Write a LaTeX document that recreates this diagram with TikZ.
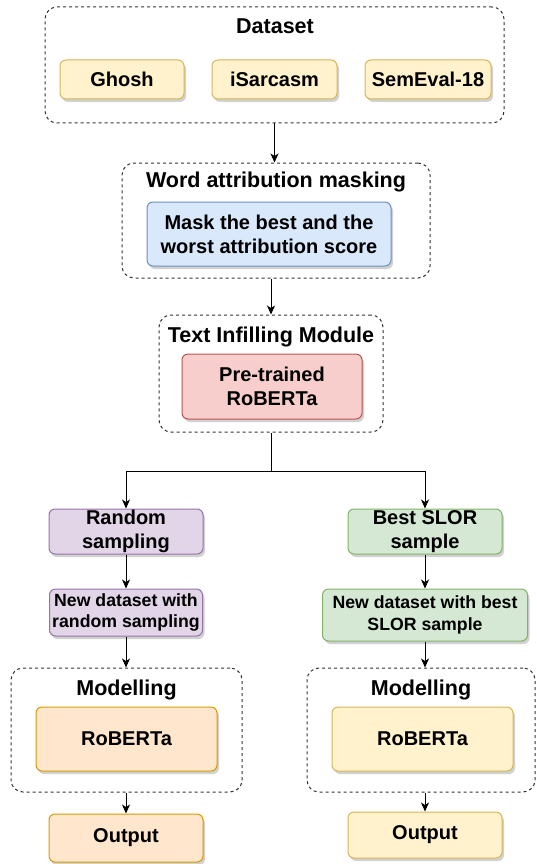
\documentclass[tikz,border=0pt]{standalone}
\usepackage{fontspec}
\setmainfont{Liberation Sans}
\usetikzlibrary{arrows.meta,shadows,calc}
\definecolor{yfill}{HTML}{FFF2CC}\definecolor{ydraw}{HTML}{D6B656}
\definecolor{bfill}{HTML}{DAE8FC}\definecolor{bdraw}{HTML}{6C8EBF}
\definecolor{rfill}{HTML}{F8CECC}\definecolor{rdraw}{HTML}{B85450}
\definecolor{pfill}{HTML}{E1D5E7}\definecolor{pdraw}{HTML}{9673A6}
\definecolor{gfill}{HTML}{D5E8D4}\definecolor{gdraw}{HTML}{82B366}
\definecolor{ofill}{HTML}{FFE6CC}\definecolor{odraw}{HTML}{D79B00}
\begin{document}
\begin{tikzpicture}[x=1pt,y=-1pt,
  box/.style={draw, line width=1pt, rounded corners=6pt, align=center, inner sep=0pt,
    font=\fontsize{20}{24}\selectfont\bfseries,
    drop shadow={shadow xshift=2pt,shadow yshift=-3pt,fill=black,opacity=0.18}},
  smallbox/.style={box, font=\fontsize{17.7}{21.7}\selectfont\bfseries},
  grp/.style={draw=black!80, dash pattern=on 3pt off 3pt, line width=1pt, rounded corners=12pt, inner sep=0pt},
  ttl/.style={anchor=base, font=\fontsize{21.5}{24}\selectfont\bfseries, inner sep=0pt},
  arr/.style={-{Stealth[length=9pt,width=8pt,inset=2.5pt]}, line width=1pt},
  ln/.style={line width=1pt}]
\useasboundingbox (0,0) rectangle (536,864);

% Dataset
\node[grp, minimum width=459pt, minimum height=116pt] (ds) at (274.5,65) {};
\node[ttl] (dst) at (275,34) {Dataset};
\node[box, fill=yfill, draw=ydraw, minimum width=124pt, minimum height=39pt] (ghosh) at (122,79.5) {Ghosh};
\node[box, fill=yfill, draw=ydraw, minimum width=125pt, minimum height=39pt] (isar) at (274.5,79.5) {iSarcasm};
\node[box, fill=yfill, draw=ydraw, minimum width=126pt, minimum height=39pt] (semev) at (428,79.5) {SemEval-18};

% Word attribution masking
\node[grp, minimum width=308pt, minimum height=115pt] (wam) at (276,220.5) {};
\node[ttl] (wamt) at (276,187) {Word attribution masking};
\node[box, fill=bfill, draw=bdraw, minimum width=244pt, minimum height=64pt] (mask) at (269,234) {Mask the best and the\\worst attribution score};

% Text infilling module
\node[grp, minimum width=224pt, minimum height=117pt] (tim) at (271,373.5) {};
\node[ttl] (timt) at (271,342) {Text Infilling Module};
\node[box, fill=rfill, draw=rdraw, minimum width=180pt, minimum height=65pt] (pre) at (272,386.5) {Pre-trained\\RoBERTa};

% Branches
\node[box, fill=pfill, draw=pdraw, minimum width=154pt, minimum height=45pt] (rs) at (126,531.5) {Random\\sampling};
\node[box, fill=gfill, draw=gdraw, minimum width=154pt, minimum height=45pt] (bs) at (425,531.5) {Best SLOR\\sample};
\node[smallbox, fill=pfill, draw=pdraw, minimum width=153pt, minimum height=47pt] (nr) at (126,612.5) {New dataset with\\random sampling};
\node[smallbox, fill=gfill, draw=gdraw, minimum width=205pt, minimum height=52pt] (nb) at (425,615) {New dataset with best\\SLOR sample};

% Modelling left
\node[grp, minimum width=231pt, minimum height=124pt] (ml) at (126.5,730) {};
\node[ttl] (mlt) at (126.5,695) {Modelling};
\node[box, fill=ofill, draw=odraw, minimum width=181pt, minimum height=64pt] (rl) at (126.5,739) {RoBERTa};
\node[box, fill=ofill, draw=odraw, minimum width=154pt, minimum height=48pt] (ol) at (126,838) {Output};

% Modelling right
\node[grp, minimum width=228pt, minimum height=124pt] (mr) at (421,730) {};
\node[ttl] (mrt) at (421,695) {Modelling};
\node[box, fill=yfill, draw=ydraw, minimum width=181pt, minimum height=64pt] (rr) at (422.5,739) {RoBERTa};
\node[box, fill=yfill, draw=ydraw, minimum width=154pt, minimum height=46pt] (orr) at (425,835) {Output};

% Connectors
\draw[arr] (ds.south) -- (ds.south |- wam.north);
\draw[arr] (wam.south -| tim.north) -- (tim.north);
\coordinate (j) at (tim.south |- 0,471);
\draw[ln] (tim.south) -- (j);
\draw[arr] (j) -| (rs.north);
\draw[arr] (j) -| (bs.north);
\draw[arr] (rs.south) -- (nr.north);
\draw[arr] (bs.south) -- (bs.south |- nb.north);
\draw[arr] (nr.south) -- (nr.south |- ml.north);
\draw[arr] (bs.south |- nb.south) -- (bs.south |- mr.north);
\draw[arr] (ml.south -| ol.north) -- (ol.north);
\draw[arr] (mr.south -| orr.north) -- (orr.north);
\end{tikzpicture}
\end{document}
